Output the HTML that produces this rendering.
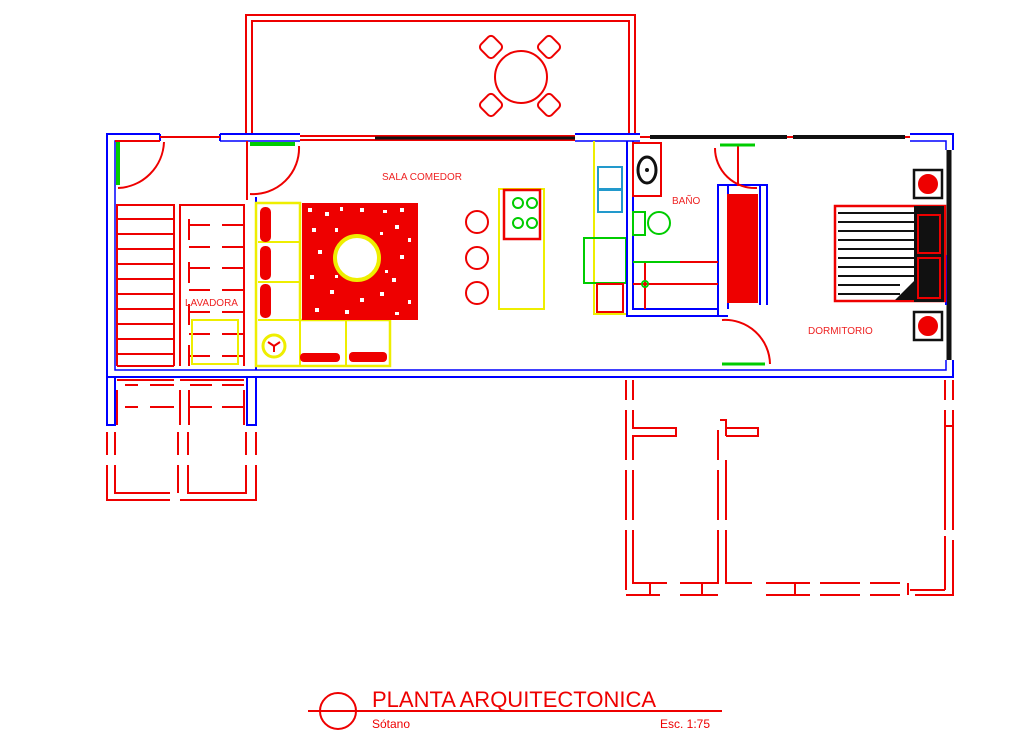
<!DOCTYPE html>
<html><head><meta charset="utf-8"><style>
html,body{margin:0;padding:0;background:#fff;width:1024px;height:744px;overflow:hidden}
svg{display:block}
text{font-family:"Liberation Sans",sans-serif}
</style></head><body>
<svg width="1024" height="744" viewBox="0 0 1024 744" xmlns="http://www.w3.org/2000/svg">
<g fill="none" stroke-width="2">
<!-- terrace -->
<path d="M246 135V15H635V135" stroke="#e00"/>
<path d="M252 135V21H629V135" stroke="#e00"/>
<circle cx="521" cy="77" r="26" stroke="#e00"/>
<g stroke="#e00">
<rect x="482" y="38" width="18" height="18" rx="4" transform="rotate(45 491 47)"/>
<rect x="540" y="38" width="18" height="18" rx="4" transform="rotate(45 549 47)"/>
<rect x="482" y="96" width="18" height="18" rx="4" transform="rotate(45 491 105)"/>
<rect x="540" y="96" width="18" height="18" rx="4" transform="rotate(45 549 105)"/>
</g>
<!-- top windows -->
<path d="M300 136H575M300 140H575" stroke="#e00"/>
<path d="M375 138H575M650 137H787M793 137H905" stroke="#111" stroke-width="4"/>
<!-- main walls blue -->
<path d="M107 134H953V377H107Z" stroke="#00f"/>
<path d="M115 141H946V370H115Z" stroke="#00f" stroke-width="1.5"/>
<path d="M107 377V425H115V377M247 377V425H256V377" stroke="#00f"/>
<path d="M256 197V370" stroke="#00f"/>
<!-- openings in top wall (white cover) -->
<rect x="160" y="133" width="60" height="9" fill="#fff" stroke="none"/>
<path d="M160 134V141M220 134V141" stroke="#00f"/>
<path d="M160 137H220" stroke="#e00"/>
<rect x="300" y="133" width="275" height="9" fill="#fff" stroke="none"/>
<path d="M300 136H575M300 140H575" stroke="#e00"/>
<path d="M375 138H575" stroke="#111" stroke-width="3"/>
<rect x="640" y="133" width="270" height="9" fill="#fff" stroke="none"/>
<path d="M640 137H910" stroke="#e00"/>
<path d="M650 137H787M793 137H905" stroke="#111" stroke-width="4"/>
<rect x="945" y="150" width="9" height="210" fill="#fff" stroke="none"/>
<path d="M949 150V360" stroke="#111" stroke-width="5"/>
<path d="M946 255V305" stroke="#00f"/>
<!-- left interior -->
<path d="M247 141V200" stroke="#e00"/>
<path d="M115 141H160" stroke="#e00"/>
<path d="M118 142V185" stroke="#0c0" stroke-width="4"/>
<path d="M118 188A48 48 0 0 0 164 142" stroke="#e00"/>
<path d="M250 144H295" stroke="#0c0" stroke-width="4"/>
<path d="M250 194A46 46 0 0 0 299 146" stroke="#e00"/>
<!-- stairs left -->
<g stroke="#e00">
<path d="M117 204V366M174 204V366M180 204V366M244 204V366"/>
<path d="M117 205H174M117 219H174M117 234H174M117 249H174M117 264H174M117 279H174M117 294H174M117 309H174M117 324H174M117 339H174M117 354H174M117 366H174"/>
<path d="M180 205H244M189 219V240M189 262V283M189 304V325M189 345V366M189 225H210M222 225H244M189 247H210M222 247H244M189 268H210M222 268H244M189 290H210M222 290H244M189 312H210M222 312H244M189 334H210M222 334H244M189 356H210M222 356H244"/>
<!-- below left dashed -->
<path d="M117 380H174M180 380H244M117 390V425M180 390V425M189 390V425M244 390V425M125 385H138M150 385H174M190 385H212M222 385H244M125 407H138M150 407H174M190 407H212M222 407H244"/>
<path d="M107 432V455M107 465V500H170M115 432V455M115 465V493H170M178 432V455M178 465V493M188 432V455M188 465V493H238M246 432V455M246 465V493H220M256 432V455M256 465V500H188M127 500H170M180 500H245"/>
</g>
<text x="185" y="306" font-size="10" fill="#e22" stroke="none">LAVADORA</text>
<rect x="192" y="320" width="46" height="44" stroke="#ee0"/>
<!-- sofa -->
<path d="M256 203H300V320H390V366H256Z" stroke="#ee0" stroke-width="2.5"/>
<path d="M300 203V320M258 242H300M258 282H300M300 320V366M346 320V366M258 320H300" stroke="#ee0"/>
<rect x="260" y="207" width="11" height="35" rx="5" fill="#e00" stroke="none"/>
<rect x="260" y="246" width="11" height="34" rx="5" fill="#e00" stroke="none"/>
<rect x="260" y="284" width="11" height="34" rx="5" fill="#e00" stroke="none"/>
<rect x="300" y="353" width="40" height="9" rx="4" fill="#e00" stroke="none"/>
<rect x="349" y="352" width="38" height="10" rx="4" fill="#e00" stroke="none"/>
<circle cx="274" cy="346" r="11" stroke="#ee0" stroke-width="3"/>
<path d="M268 342L274 346L280 342M274 346V352" stroke="#e00"/>
<!-- rug -->
<rect x="302" y="203" width="116" height="117" fill="#e00" stroke="none"/>
<g fill="#fff" stroke="none">
<rect x="308" y="208" width="4" height="4"/><rect x="325" y="212" width="4" height="4"/><rect x="340" y="207" width="3" height="4"/><rect x="360" y="208" width="4" height="4"/><rect x="383" y="210" width="4" height="3"/><rect x="400" y="208" width="4" height="4"/>
<rect x="312" y="228" width="4" height="4"/><rect x="395" y="225" width="4" height="4"/><rect x="408" y="238" width="3" height="4"/><rect x="318" y="250" width="4" height="4"/><rect x="400" y="255" width="4" height="4"/><rect x="310" y="275" width="4" height="4"/><rect x="392" y="278" width="4" height="4"/><rect x="330" y="290" width="4" height="4"/><rect x="360" y="298" width="4" height="4"/><rect x="380" y="292" width="4" height="4"/><rect x="408" y="300" width="3" height="4"/><rect x="315" y="308" width="4" height="4"/><rect x="345" y="310" width="4" height="4"/><rect x="395" y="312" width="4" height="3"/><rect x="335" y="228" width="3" height="4"/><rect x="380" y="232" width="3" height="3"/><rect x="335" y="275" width="3" height="3"/><rect x="385" y="270" width="3" height="3"/>
</g>
<circle cx="357" cy="258" r="22" fill="#fff" stroke="#ee0" stroke-width="4"/>
<text x="382" y="180" font-size="10" fill="#e22" stroke="none">SALA COMEDOR</text>
<g stroke="#e00"><circle cx="477" cy="222" r="11"/><circle cx="477" cy="258" r="11"/><circle cx="477" cy="293" r="11"/></g>
<!-- island -->
<rect x="499" y="189" width="45" height="120" stroke="#ee0"/>
<rect x="504" y="190" width="36" height="49" stroke="#e00" stroke-width="2.5"/>
<g stroke="#0c0"><circle cx="518" cy="203" r="5"/><circle cx="532" cy="203" r="5"/><circle cx="518" cy="223" r="5"/><circle cx="532" cy="223" r="5"/></g>
<!-- kitchen -->
<path d="M594 141V314H627" stroke="#ee0"/>
<rect x="598" y="167" width="24" height="22" stroke="#29c"/>
<rect x="598" y="190" width="24" height="22" stroke="#29c"/>
<rect x="584" y="238" width="42" height="45" stroke="#0c0"/>
<rect x="597" y="284" width="26" height="28" stroke="#e00"/>
<!-- bathroom -->
<path d="M627 141V316H722M633 141V309H718V185H728V309" stroke="#00f"/>
<path d="M718 185H760V305M718 185V316H728M760 185H767V305" stroke="#00f"/>
<rect x="633" y="143" width="28" height="53" stroke="#e00"/>
<ellipse cx="647" cy="170" rx="9" ry="13" stroke="#111" stroke-width="3"/>
<circle cx="647" cy="170" r="2" fill="#111"/>
<rect x="633" y="212" width="12" height="23" stroke="#0c0"/>
<circle cx="659" cy="223" r="11" stroke="#0c0"/>
<path d="M633 262H718M633 284H718M645 262V309" stroke="#e00"/>
<path d="M633 262H680" stroke="#0c0"/>
<circle cx="645" cy="284" r="3" stroke="#0c0"/>
<text x="672" y="204" font-size="10" fill="#e22" stroke="none">BAÑO</text>
<rect x="727" y="194" width="31" height="109" fill="#e00" stroke="none"/>
<path d="M738 145H755M738 145V186" stroke="#e00"/>
<path d="M720 145H755" stroke="#0c0" stroke-width="3"/>
<path d="M715 148A40 40 0 0 0 757 188" stroke="#e00"/>
<path d="M722 320A45 45 0 0 1 770 364" stroke="#e00"/>
<path d="M722 364H765" stroke="#0c0" stroke-width="3"/>
<!-- bedroom -->
<rect x="835" y="206" width="110" height="95" stroke="#e00" stroke-width="2.5"/>
<path d="M838 213H915M838 222H915M838 231H915M838 240H915M838 249H915M838 258H915M838 267H915M838 276H915M838 285H900M838 294H900" stroke="#111" stroke-width="2"/>
<rect x="914" y="206" width="30" height="96" fill="#111" stroke="none"/>
<rect x="918" y="215" width="22" height="38" stroke="#e00"/>
<rect x="918" y="258" width="22" height="40" stroke="#e00"/>
<path d="M895 300L915 280V300Z" fill="#111" stroke="none"/>
<rect x="914" y="170" width="28" height="28" stroke="#111" stroke-width="2.5"/>
<circle cx="928" cy="184" r="9" fill="#e00" stroke="#e00"/>
<rect x="914" y="312" width="28" height="28" stroke="#111" stroke-width="2.5"/>
<circle cx="928" cy="326" r="9" fill="#e00" stroke="#e00"/>
<text x="808" y="334" font-size="10" fill="#e22" stroke="none">DORMITORIO</text>
<!-- right dashed area -->
<g stroke="#e00">
<path d="M626 380V400M633 380V400M626 410V460M633 410V428H676V436H633V460M626 470V520M633 470V520M626 530V590M633 530V583H667M626 595H660"/>
<path d="M718 430V460M718 470V520M718 530V583H680M726 436V420H720M726 436H758V428H726M726 460V520M726 530V583H752M718 595H680"/>
<path d="M945 380V400M953 380V400M945 410V530M953 410V530M945 426H953M945 536V590M953 540V595H915M945 590H910M766 583H810M766 595H810M820 583H860M820 595H860M870 583H900M870 595H900"/>
<path d="M650 583V595M702 583V595M795 583V595M908 583V595"/>
</g>
<!-- title -->
<circle cx="338" cy="711" r="18" stroke="#e00"/>
<path d="M308 711H722" stroke="#e00"/>
</g>
<text x="372" y="707" font-size="22" fill="#e00">PLANTA ARQUITECTONICA</text>
<text x="372" y="728" font-size="12" fill="#e00">Sótano</text>
<text x="660" y="728" font-size="12" fill="#e00">Esc. 1:75</text>
</svg>
</body></html>
